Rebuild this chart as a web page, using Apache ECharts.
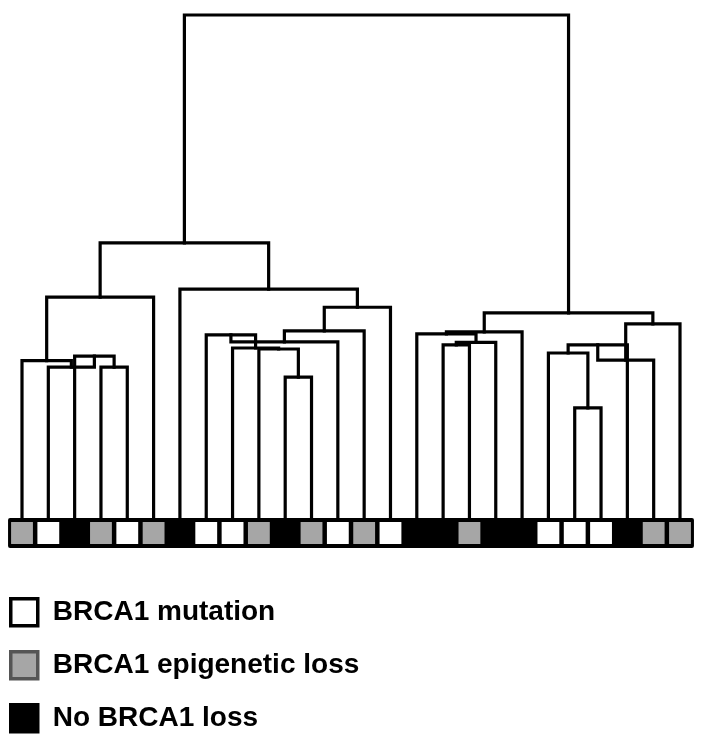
<!DOCTYPE html>
<html>
<head>
<meta charset="utf-8">
<script src="https://cdn.jsdelivr.net/npm/echarts@6/dist/echarts.min.js"></script>
<style>
  html, body { margin: 0; padding: 0; background: #ffffff; }
  #chart { width: 709px; height: 745px; }
</style>
</head>
<body>
<div id="chart"></div>
<script>
// ---- data ----
const statusLabels = ['BRCA1 mutation', 'BRCA1 epigenetic loss', 'No BRCA1 loss'];
const statusColors = ['#ffffff', '#a6a6a6', '#000000'];
const statusBorders = ['#000000', '#555555', '#000000'];
// BRCA1 status of each leaf, left to right (index into statusLabels)
const leafStatus = [1, 0, 2, 1, 0, 1, 2, 0, 0, 1, 2, 1, 0, 1, 0, 2, 2, 1, 2, 2, 0, 0, 0, 2, 1, 1];
// merges: [child A, child B, height]; ids 0..25 are leaves, 26+ are merged nodes in order
const merges = [
  [3, 4, 0.300],    // 26
  [2, 26, 0.322],   // 27
  [1, 27, 0.300],   // 28
  [0, 28, 0.313],   // 29
  [29, 5, 0.439],   // 30
  [10, 11, 0.280],  // 31
  [9, 31, 0.336],   // 32
  [8, 32, 0.338],   // 33
  [7, 33, 0.364],   // 34
  [34, 12, 0.350],  // 35
  [35, 13, 0.372],  // 36
  [36, 14, 0.419],  // 37
  [6, 37, 0.455],   // 38
  [30, 38, 0.547],  // 39
  [16, 17, 0.344],  // 40
  [40, 18, 0.349],  // 41
  [15, 41, 0.366],  // 42
  [42, 19, 0.370],  // 43
  [21, 22, 0.219],  // 44
  [20, 44, 0.328],  // 45
  [45, 23, 0.344],  // 46
  [46, 24, 0.314],  // 47
  [47, 25, 0.386],  // 48
  [43, 48, 0.408],  // 49
  [39, 49, 1.000]   // 50
];

// ---- build link data from the tree ----
const nLeaves = leafStatus.length;
const nodeX = [], nodeH = [];
for (let i = 0; i < nLeaves; i++) { nodeX[i] = i; nodeH[i] = 0; }
const linkData = merges.map(function (m, k) {
  const a = m[0], b = m[1], h = m[2];
  const id = nLeaves + k;
  nodeX[id] = (nodeX[a] + nodeX[b]) / 2;
  nodeH[id] = h;
  return [nodeX[a], nodeX[b], h, nodeH[a], nodeH[b]];
});

const chart = echarts.init(document.getElementById('chart'), null, { renderer: 'canvas' });

function linkRender(params, api) {
  const p1 = api.coord([api.value(0), api.value(3)]);
  const p2 = api.coord([api.value(0), api.value(2)]);
  const p3 = api.coord([api.value(1), api.value(2)]);
  const p4 = api.coord([api.value(1), api.value(4)]);
  return {
    type: 'polyline',
    shape: { points: [p1, p2, p3, p4] },
    style: { stroke: '#000000', lineWidth: 3.2, fill: null, lineJoin: 'miter', lineCap: 'square' }
  };
}

function barBgRender(params, api) {
  const a = api.coord([api.value(0) - 0.53, 1]);
  const b = api.coord([api.value(1) + 0.53, 0]);
  return {
    type: 'rect',
    shape: { x: a[0], y: a[1], width: b[0] - a[0], height: b[1] - a[1], r: 2 },
    style: { fill: '#000000' }
  };
}

function makeCellRender(si) {
  return function (params, api) {
    const a = api.coord([api.value(0) - 0.415, 0.866]);
    const b = api.coord([api.value(0) + 0.415, 0.134]);
    return {
      type: 'rect',
      shape: { x: a[0], y: a[1], width: b[0] - a[0], height: b[1] - a[1] },
      style: { fill: statusColors[si] }
    };
  };
}

const cellSeries = statusLabels.map(function (label, si) {
  const d = [];
  leafStatus.forEach(function (s, i) { if (s === si) d.push([i]); });
  return {
    name: label,
    type: 'custom',
    xAxisIndex: 1,
    yAxisIndex: 1,
    data: d,
    encode: { x: 0 },
    itemStyle: { color: statusColors[si], borderColor: statusBorders[si] },
    renderItem: makeCellRender(si),
    z: 3,
    silent: true
  };
});

const option = {
  backgroundColor: '#ffffff',
  animation: false,
  grid: [
    { left: 22, width: 658, top: 15, height: 503 },
    { left: 22, width: 658, top: 518, height: 30 }
  ],
  xAxis: [
    { type: 'value', gridIndex: 0, min: 0, max: nLeaves - 1, show: false },
    { type: 'value', gridIndex: 1, min: 0, max: nLeaves - 1, show: false }
  ],
  yAxis: [
    { type: 'value', gridIndex: 0, min: 0, max: 1, show: false },
    { type: 'value', gridIndex: 1, min: 0, max: 1, show: false }
  ],
  legend: {
    orient: 'vertical',
    left: 9,
    top: 597,
    padding: 0,
    itemWidth: 27,
    itemHeight: 27,
    itemGap: 22.5,
    selectedMode: false,
    textStyle: {
      fontFamily: '"Liberation Sans", Arial, sans-serif',
      fontWeight: 'bold',
      fontSize: 28,
      color: '#000000',
      lineHeight: 30,
      padding: [0, 0, 0, 10]
    },
    data: statusLabels.map(function (label, si) {
      return {
        name: label,
        icon: 'rect',
        itemStyle: { color: statusColors[si], borderColor: statusBorders[si], borderWidth: 3.5 }
      };
    })
  },
  series: [
    {
      type: 'custom',
      name: 'dendrogram',
      xAxisIndex: 0,
      yAxisIndex: 0,
      data: linkData,
      encode: { x: [0, 1], y: [2, 3, 4] },
      renderItem: linkRender,
      silent: true,
      z: 2
    },
    {
      type: 'custom',
      name: 'bar',
      xAxisIndex: 1,
      yAxisIndex: 1,
      data: [[0, nLeaves - 1]],
      encode: { x: [0, 1] },
      renderItem: barBgRender,
      silent: true,
      z: 1
    }
  ].concat(cellSeries)
};

chart.setOption(option);
</script>
</body>
</html>
